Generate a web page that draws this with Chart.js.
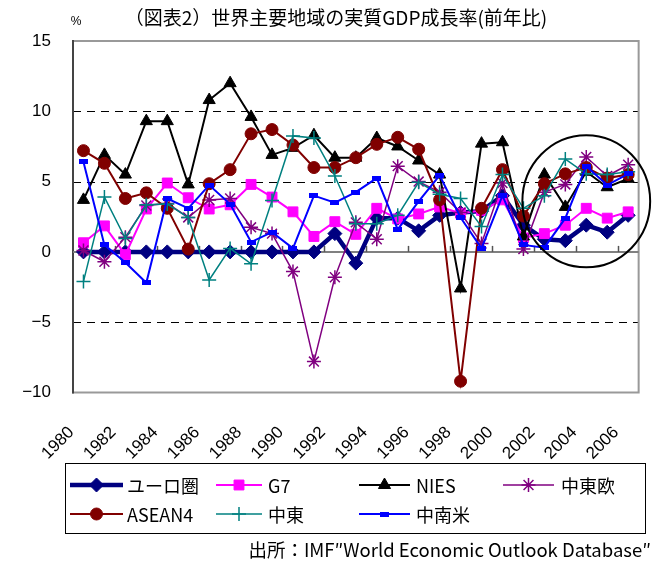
<!DOCTYPE html>
<html>
<head>
<meta charset="utf-8">
<script src="https://cdn.jsdelivr.net/npm/chart.js@4/dist/chart.umd.min.js"></script>
<style>
  html, body { margin: 0; padding: 0; background: #fff; }
  #wrap { width: 665px; height: 562px; }
</style>
</head>
<body>
<div id="wrap"><canvas id="c" width="665" height="562"></canvas></div>
<script>
// Real GDP growth by region, % year on year (IMF WEO)
const years = ['1980','1981','1982','1983','1984','1985','1986','1987','1988','1989',
               '1990','1991','1992','1993','1994','1995','1996','1997','1998','1999',
               '2000','2001','2002','2003','2004','2005','2006'];

const euroArea   = [0,0,0,0,0,0,0,0,0,0,0,0,1.3,-0.8,2.4,2.4,1.5,2.6,2.8,2.9,4.0,1.9,0.9,0.8,1.9,1.4,2.6];
const g7         = [0.65,1.85,-0.2,3.05,4.9,3.85,3.05,3.35,4.8,3.9,2.85,1.1,2.15,1.25,3.1,2.35,2.7,3.2,2.75,2.95,3.7,1.0,1.3,1.9,3.1,2.4,2.85];
const nies       = [3.7,6.9,5.5,9.3,9.3,4.8,10.8,12.0,9.6,6.9,7.4,8.3,6.7,6.7,8.1,7.5,6.5,5.5,-2.6,7.7,7.8,1.1,5.5,3.2,5.7,4.6,5.2];
const ceEurope   = [0.1,-0.7,1.05,3.3,3.45,2.45,3.7,3.8,1.75,1.3,-1.4,-7.8,-1.8,2.1,0.9,6.1,5.0,4.25,2.8,0.6,4.9,0.2,4.25,4.8,6.75,5.4,6.2];
const asean4     = [7.2,6.3,3.8,4.2,3.1,0.2,4.85,5.85,8.4,8.7,7.6,6.0,6.0,6.7,7.65,8.15,7.3,3.7,-9.2,3.1,5.85,2.55,4.85,5.55,6.0,5.25,5.5];
const middleEast = [-2.1,3.9,0.95,3.35,3.4,2.45,-2.0,0.25,-0.85,3.65,8.25,8.1,5.4,2.0,2.0,2.6,4.95,4.1,3.8,1.8,5.5,3.1,4.0,6.6,5.55,5.5,5.7];
const latAm      = [6.4,0.5,-0.75,-2.2,3.8,3.1,4.75,3.4,0.7,1.4,0.25,4.0,3.5,4.25,5.25,1.6,3.6,5.45,2.45,0.25,4.0,0.5,0.3,2.4,6.1,4.75,5.55];

const yTicks = [15, 10, 5, 0, -5, -10];

const FONT_NUM = '"Liberation Sans", Arial, sans-serif';
const FONT_JP  = '"Noto Sans CJK JP", "Liberation Sans", sans-serif';

// small horizontal bar marker used by the Latin America series
function barMarker(color) {
  const c = document.createElement('canvas');
  c.width = 9; c.height = 5;
  const g = c.getContext('2d');
  g.fillStyle = color;
  g.fillRect(0, 0, 9, 5);
  return c;
}

const series = [
  { label: 'ユーロ圏', data: euroArea,   color: '#000080', width: 4.5, style: 'rectRot', radius: 7 },
  { label: 'G7',       data: g7,         color: '#FF00FF', width: 2,   style: 'rect',    radius: 7 },
  { label: 'NIES',     data: nies,       color: '#000000', width: 2,   style: 'triangle',radius: 7 },
  { label: '中東欧',   data: ceEurope,   color: '#800080', width: 1.5, style: 'star',    radius: 7 },
  { label: 'ASEAN4',   data: asean4,     color: '#800000', width: 2,   style: 'circle',  radius: 6 },
  { label: '中東',     data: middleEast, color: '#008080', width: 1.5, style: 'cross',   radius: 7 },
  { label: '中南米',   data: latAm,      color: '#0000FF', width: 2,   style: barMarker('#0000FF'), radius: 4 }
];

const datasets = series.map((s, i) => ({
  label: s.label,
  data: s.data,
  borderColor: s.color,
  backgroundColor: s.color,
  borderWidth: s.width,
  pointStyle: s.style,
  pointRadius: s.radius,
  pointBorderWidth: (s.style === 'star' || s.style === 'cross') ? 1.5 : 1,
  pointBackgroundColor: s.color,
  pointBorderColor: s.color,
  tension: 0,
  order: series.length - i   // later series are painted over earlier ones
}));

// dashed grid, solid zero line with ticks, plot frame
const framePlugin = {
  id: 'frame',
  beforeDatasetsDraw(chart) {
    const { ctx, chartArea: a, scales: { x, y } } = chart;
    ctx.save();
    ctx.strokeStyle = '#000';
    ctx.lineWidth = 1;
    ctx.setLineDash([8, 6]);
    [10, 5, -5].forEach(v => {
      const py = Math.round(y.getPixelForValue(v)) + 0.5;
      ctx.beginPath(); ctx.moveTo(a.left, py); ctx.lineTo(a.right, py); ctx.stroke();
    });
    ctx.setLineDash([]);
    // frame
    ctx.strokeStyle = '#999';
    ctx.lineWidth = 2;
    ctx.strokeRect(a.left, a.top, a.right - a.left, a.bottom - a.top);
    ctx.strokeStyle = '#444';
    ctx.beginPath(); ctx.moveTo(a.left, a.top - 1); ctx.lineTo(a.left, a.bottom + 1); ctx.stroke();
    // zero line and category ticks
    const y0 = y.getPixelForValue(0);
    ctx.strokeStyle = '#808080';
    ctx.lineWidth = 2;
    ctx.beginPath(); ctx.moveTo(a.left, y0); ctx.lineTo(a.right, y0); ctx.stroke();
    const half = (x.getPixelForValue(1) - x.getPixelForValue(0)) / 2;
    ctx.lineWidth = 1.5;
    ctx.strokeStyle = '#555';
    for (let k = 2; k < years.length; k += 2) {
      const px = Math.round(x.getPixelForValue(k) - half) + 0.5;
      ctx.beginPath(); ctx.moveTo(px, y0 - 6); ctx.lineTo(px, y0); ctx.stroke();
    }
    ctx.restore();
  }
};

// ellipse marking the most recent years
const ringPlugin = {
  id: 'ring',
  afterDatasetsDraw(chart) {
    const { ctx, scales: { x, y } } = chart;
    const cx = x.getPixelForValue(24);
    const cy = y.getPixelForValue(3.6);
    const rx = (x.getPixelForValue(1) - x.getPixelForValue(0)) * 3.05;
    const ry = (y.getPixelForValue(0) - y.getPixelForValue(4.7));
    ctx.save();
    ctx.strokeStyle = '#000';
    ctx.lineWidth = 2;
    ctx.beginPath();
    ctx.ellipse(cx, cy, rx, ry, 0, 0, Math.PI * 2);
    ctx.stroke();
    ctx.restore();
  }
};

// title, unit, boxed legend and source note
const textPlugin = {
  id: 'texts',
  afterDraw(chart) {
    const { ctx } = chart;
    ctx.save();
    ctx.fillStyle = '#000';
    ctx.textBaseline = 'middle';
    ctx.textAlign = 'center';
    ctx.font = '19px ' + FONT_JP;
    ctx.fillText('（図表2）世界主要地域の実質GDP成長率(前年比)', 336, 18);
    ctx.font = '12px ' + FONT_NUM;
    ctx.fillText('%', 76, 22);

    // legend
    ctx.strokeStyle = '#000';
    ctx.lineWidth = 1;
    ctx.strokeRect(65.5, 463.5, 580, 70);
    const cols = [[70, 123, 127], [216, 262, 268], [359, 410, 416], [503, 554, 561]];
    const rows = [485, 514];
    const meta = chart.data.datasets;
    meta.forEach((ds, i) => {
      const col = cols[i % 4];
      const ry = rows[Math.floor(i / 4)];
      ctx.strokeStyle = ds.borderColor;
      ctx.lineWidth = ds.borderWidth;
      ctx.beginPath(); ctx.moveTo(col[0], ry); ctx.lineTo(col[1], ry); ctx.stroke();
      ctx.fillStyle = ds.backgroundColor;
      ctx.lineWidth = ds.pointBorderWidth;
      Chart.helpers.drawPoint(ctx, {
        pointStyle: ds.pointStyle, radius: ds.pointRadius, rotation: 0, borderWidth: ds.pointBorderWidth
      }, (col[0] + col[1]) / 2, ry);
      ctx.fillStyle = '#000';
      ctx.textAlign = 'left';
      ctx.font = '18px ' + FONT_JP;
      ctx.fillText(ds.label, col[2], ry + 1);
    });

    ctx.textAlign = 'right';
    ctx.font = '18.5px ' + FONT_JP;
    ctx.fillText('出所：IMF″World Economic Outlook Database″', 651, 550);
    ctx.restore();
  }
};

new Chart(document.getElementById('c'), {
  type: 'line',
  data: { labels: years, datasets },
  options: {
    responsive: false,
    animation: false,
    devicePixelRatio: 1,
    layout: { padding: { top: 41, right: 22, left: 0, bottom: 0 } },
    plugins: { legend: { display: false }, tooltip: { enabled: false }, title: { display: false } },
    scales: {
      x: {
        offset: true,
        grid: { display: false },
        border: { display: false },
        ticks: {
          autoSkip: false,
          maxRotation: 45,
          minRotation: 45,
          padding: 22,
          labelOffset: -12,
          color: '#000',
          font: { family: FONT_NUM, size: 17 },
          callback: (v, i) => (i % 2 === 0 ? years[i] : '')
        },
        afterFit: s => { s.height = 169.5; }
      },
      y: {
        min: -10,
        max: 15,
        afterBuildTicks: s => { s.ticks = yTicks.map(v => ({ value: v })); },
        grid: { display: false },
        border: { display: false },
        ticks: {
          color: '#000',
          padding: 14,
          font: { family: FONT_NUM, size: 17 },
          callback: v => (v < 0 ? '−' + Math.abs(v) : String(v))
        },
        afterFit: s => { s.width = 73; }
      }
    }
  },
  plugins: [framePlugin, ringPlugin, textPlugin]
});
</script>
</body>
</html>
